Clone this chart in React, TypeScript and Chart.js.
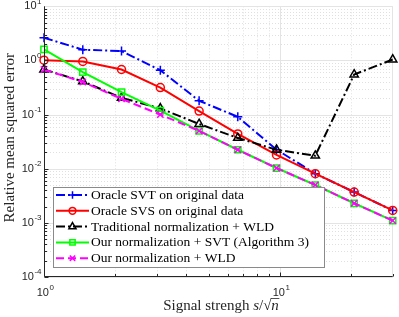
import React, { useEffect, useRef } from 'react';
import { Chart, registerables } from 'chart.js';

Chart.register(...registerables);

const W = 399;
const H = 317;

// ---- data ----
const signalStrength = [1, 1.46, 2.13, 3.11, 4.54, 6.62, 9.66, 14.1, 20.6, 30];
const oracleSVT = [2.63, 1.58, 1.49, 0.66, 0.18, 0.091, 0.0225, 0.0081, 0.0037, 0.0017];
const oracleSVS = [1.01, 0.96, 0.68, 0.316, 0.116, 0.044, 0.018, 0.0081, 0.0037, 0.0017];
const traditionalWLD = [0.68, 0.41, 0.204, 0.13, 0.067, 0.037, 0.0224, 0.0174, 0.55, 1.04];
const ourSVT = [1.6, 0.61, 0.259, 0.118, 0.05, 0.0224, 0.0103, 0.005, 0.0023, 0.0011];
const ourWLD = [0.68, 0.4, 0.195, 0.1, 0.05, 0.0224, 0.0103, 0.005, 0.0023, 0.0011];

const seriesLabels = [
  'Oracle SVT on original data',
  'Oracle SVS on original data',
  'Traditional normalization + WLD',
  'Our normalization + SVT (Algorithm 3)',
  'Our normalization + WLD',
];
const seriesValues = [oracleSVT, oracleSVS, traditionalWLD, ourSVT, ourWLD];

const xTickValues = [1, 10];
const xTickExps = ['0', '1'];
const yTickValues = [1e-4, 1e-3, 1e-2, 1e-1, 1, 10];
const yTickExps = ['-4', '-3', '-2', '-1', '0', '1'];

const xTitleMain = 'Signal strengh ';
const yTitle = 'Relative mean squared error';

// ---- styles ----
const SERIF = '"Liberation Serif", "Times New Roman", serif';
const SANS = '"Liberation Sans", Arial, sans-serif';
const seriesStyles = [
  { color: '#0000ff', dash: [9, 3, 2, 3], marker: 'cross', radius: 4.5 },
  { color: '#ff0000', dash: [], marker: 'circle', radius: 4 },
  { color: '#000000', dash: [9, 3, 2, 3], marker: 'triangle', radius: 4.8 },
  { color: '#00ff00', dash: [], marker: 'rect', radius: 4.4 },
  { color: '#ff00ff', dash: [8, 4], marker: 'crossRot', radius: 4.5 },
];

function drawMarker(ctx: CanvasRenderingContext2D, style: string, x: number, y: number, r: number) {
  ctx.beginPath();
  if (style === 'cross') {
    ctx.moveTo(x - r, y); ctx.lineTo(x + r, y);
    ctx.moveTo(x, y - r); ctx.lineTo(x, y + r);
  } else if (style === 'crossRot') {
    const s = r * Math.SQRT1_2;
    ctx.moveTo(x - s, y - s); ctx.lineTo(x + s, y + s);
    ctx.moveTo(x - s, y + s); ctx.lineTo(x + s, y - s);
  } else if (style === 'circle') {
    ctx.arc(x, y, r, 0, Math.PI * 2);
  } else if (style === 'rect') {
    const s = r * Math.SQRT1_2;
    ctx.rect(x - s, y - s, 2 * s, 2 * s);
  } else if (style === 'triangle') {
    ctx.moveTo(x, y - r);
    ctx.lineTo(x + r * Math.sin(Math.PI / 3), y + r / 2);
    ctx.lineTo(x - r * Math.sin(Math.PI / 3), y + r / 2);
    ctx.closePath();
  }
  ctx.stroke();
}

function drawPow(ctx: CanvasRenderingContext2D, exp: string, x: number, y: number, align: 'right' | 'center') {
  ctx.save();
  ctx.fillStyle = '#262626';
  ctx.textBaseline = 'middle';
  ctx.textAlign = 'left';
  ctx.font = `11px ${SANS}`;
  const w1 = ctx.measureText('10').width;
  ctx.font = `8px ${SANS}`;
  const w2 = ctx.measureText(exp).width;
  const total = w1 + w2;
  const x0 = align === 'right' ? x - total : x - total / 2;
  ctx.font = `11px ${SANS}`;
  ctx.fillText('10', x0, y);
  ctx.font = `8px ${SANS}`;
  ctx.fillText(exp, x0 + w1 + 0.5, y - 5);
  ctx.restore();
}

const matlabPlugin = {
  id: 'matlabDecor',
  beforeDatasetsDraw(chart: any) {
    const { ctx, chartArea: a, scales } = chart;
    const xs = scales.x;
    const ys = scales.y;
    ctx.save();
    // minor grid
    ctx.strokeStyle = '#e0e0e0';
    ctx.lineWidth = 1;
    ctx.setLineDash([1, 2]);
    ctx.beginPath();
    for (const d of [1, 10]) {
      for (let k = 2; k <= 9; k++) {
        const v = k * d;
        if (v >= 30) continue;
        const px = Math.round(xs.getPixelForValue(v)) + 0.5;
        ctx.moveTo(px, a.top); ctx.lineTo(px, a.bottom);
      }
    }
    for (let e = -4; e <= 0; e++) {
      for (let k = 2; k <= 9; k++) {
        const py = Math.round(ys.getPixelForValue(k * Math.pow(10, e))) + 0.5;
        ctx.moveTo(a.left, py); ctx.lineTo(a.right, py);
      }
    }
    ctx.stroke();
    // major grid
    ctx.setLineDash([]);
    ctx.strokeStyle = '#e4e4e4';
    ctx.beginPath();
    for (const v of xTickValues) {
      const px = Math.round(xs.getPixelForValue(v)) + 0.5;
      ctx.moveTo(px, a.top); ctx.lineTo(px, a.bottom);
    }
    for (const v of yTickValues) {
      const py = Math.round(ys.getPixelForValue(v)) + 0.5;
      ctx.moveTo(a.left, py); ctx.lineTo(a.right, py);
    }
    const rx = Math.round(a.right) - 0.5;
    ctx.moveTo(rx, a.top); ctx.lineTo(rx, a.bottom);
    ctx.stroke();
    ctx.restore();
  },
  afterDraw(chart: any) {
    const { ctx, chartArea: a, scales } = chart;
    const xs = scales.x;
    const ys = scales.y;
    ctx.save();
    ctx.strokeStyle = '#262626';
    ctx.lineWidth = 1;
    ctx.setLineDash([]);
    const lx = Math.round(a.left) + 0.5;
    const by = Math.round(a.bottom) - 0.5;
    ctx.beginPath();
    ctx.moveTo(lx, a.top); ctx.lineTo(lx, by);
    ctx.lineTo(a.right, by);
    for (const d of [1, 10]) {
      for (let k = 1; k <= 9; k++) {
        const v = k * d;
        if (v > 30) continue;
        const px = Math.round(xs.getPixelForValue(v)) + 0.5;
        const len = k === 1 ? 4 : 2.5;
        ctx.moveTo(px, by); ctx.lineTo(px, by - len);
      }
    }
    for (let e = -4; e <= 0; e++) {
      for (let k = 1; k <= 9; k++) {
        const py = Math.round(ys.getPixelForValue(k * Math.pow(10, e))) + 0.5;
        const len = k === 1 ? 4 : 2.5;
        ctx.moveTo(lx, py); ctx.lineTo(lx + len, py);
      }
    }
    ctx.stroke();

    yTickValues.forEach((v, i) => {
      drawPow(ctx, yTickExps[i], a.left - 3, ys.getPixelForValue(v), 'right');
    });
    xTickValues.forEach((v, i) => {
      drawPow(ctx, xTickExps[i], xs.getPixelForValue(v) + 1, a.bottom + 16, 'center');
    });

    // y title
    ctx.save();
    ctx.translate(10, (a.top + a.bottom) / 2 - 4);
    ctx.rotate(-Math.PI / 2);
    ctx.font = `15px ${SERIF}`;
    ctx.fillStyle = '#262626';
    ctx.textAlign = 'center';
    ctx.textBaseline = 'middle';
    ctx.fillText(yTitle, 0, 0);
    ctx.restore();

    // x title with math
    ctx.save();
    ctx.fillStyle = '#262626';
    ctx.textBaseline = 'alphabetic';
    ctx.textAlign = 'left';
    const fN = `15px ${SERIF}`;
    const fI = `italic 15px ${SERIF}`;
    const parts: [string, string][] = [[xTitleMain, fN], ['s', fI], ['/', fN], ['\u221A', fN], ['n', fI]];
    let total = 0;
    const widths = parts.map(([t, f]) => { ctx.font = f; const w = ctx.measureText(t).width; total += w; return w; });
    let cx = 221 - total / 2;
    const base = 310;
    parts.forEach(([t, f], i) => {
      ctx.font = f;
      ctx.fillText(t, cx, base);
      if (i === 4) {
        ctx.strokeStyle = '#262626';
        ctx.lineWidth = 0.8;
        ctx.beginPath();
        ctx.moveTo(cx - 0.5, base - 11.5);
        ctx.lineTo(cx + widths[i] + 0.5, base - 11.5);
        ctx.stroke();
      }
      cx += widths[i];
    });
    ctx.restore();

    // legend
    const L = 53, T = 187, R = 325, B = 268;
    ctx.fillStyle = '#ffffff';
    ctx.fillRect(L, T, R - L, B - T);
    ctx.strokeStyle = '#8a8a8a';
    ctx.lineWidth = 1;
    ctx.strokeRect(L + 0.5, T + 0.5, R - L - 1, B - T - 1);
    seriesLabels.forEach((label, i) => {
      const st = seriesStyles[i];
      const yy = 195 + i * 15.8;
      ctx.strokeStyle = st.color;
      ctx.lineWidth = 2;
      ctx.setLineDash(st.dash);
      ctx.beginPath();
      ctx.moveTo(56, yy); ctx.lineTo(89, yy);
      ctx.stroke();
      ctx.setLineDash([]);
      ctx.lineWidth = 1.5;
      drawMarker(ctx, st.marker, 72.5, yy, st.radius * 0.85);
      ctx.fillStyle = '#000000';
      ctx.font = `13.5px ${SERIF}`;
      ctx.textAlign = 'left';
      ctx.textBaseline = 'middle';
      ctx.fillText(label, 91, yy + 0.5);
    });
    ctx.restore();
  },
};

export default function App() {
  const ref = useRef<HTMLCanvasElement | null>(null);
  useEffect(() => {
    document.body.style.margin = '0';
    const canvas = ref.current;
    if (!canvas) return;
    const datasets = seriesValues.map((vals, i) => {
      const st = seriesStyles[i];
      return {
        label: seriesLabels[i],
        data: vals.map((v, j) => ({ x: signalStrength[j], y: v })),
        borderColor: st.color,
        backgroundColor: 'rgba(0,0,0,0)',
        borderWidth: 2,
        borderDash: st.dash,
        pointStyle: st.marker,
        pointRadius: st.radius,
        pointBorderWidth: 1.5,
        pointBorderColor: st.color,
        pointBackgroundColor: 'rgba(0,0,0,0)',
        tension: 0,
        clip: false,
        order: 5 - i,
      };
    });
    const chart = new Chart(canvas, {
      type: 'line',
      data: { datasets } as any,
      options: {
        animation: false,
        responsive: false,
        maintainAspectRatio: false,
        devicePixelRatio: 1,
        layout: { padding: { top: 6, right: 6, left: 0, bottom: 0 } },
        plugins: { legend: { display: false }, tooltip: { enabled: false } },
        events: [],
        scales: {
          x: {
            type: 'logarithmic',
            min: 1,
            max: 30,
            ticks: { display: false },
            grid: { display: false },
            border: { display: false },
            afterFit: (s: any) => { s.height = 40; },
          },
          y: {
            type: 'logarithmic',
            min: 1e-4,
            max: 10,
            ticks: { display: false },
            grid: { display: false },
            border: { display: false },
            afterFit: (s: any) => { s.width = 44; },
          },
        },
      } as any,
      plugins: [matlabPlugin],
    });
    return () => chart.destroy();
  }, []);
  return (
    <div style={{ position: 'fixed', left: 0, top: 0, width: W, height: H, background: '#fff' }}>
      <canvas ref={ref} width={W} height={H} style={{ display: 'block', width: W, height: H }} />
    </div>
  );
}
